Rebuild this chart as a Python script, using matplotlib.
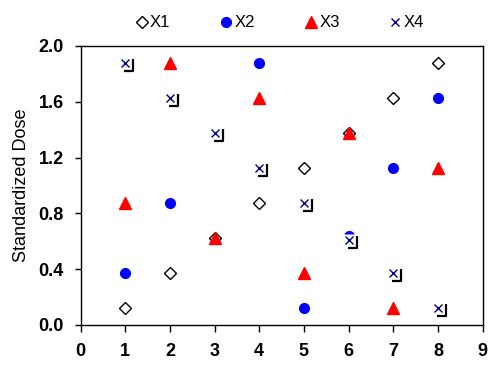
import matplotlib
matplotlib.use("Agg")
import matplotlib.pyplot as plt
from matplotlib.path import Path

plt.rcParams['font.family'] = ['Liberation Sans', 'DejaVu Sans']

# Data
runs = [1, 2, 3, 4, 5, 6, 7, 8]
x1 = [0.125, 0.375, 0.625, 0.875, 1.125, 1.375, 1.625, 1.875]
x2 = [0.375, 0.875, 1.375, 1.875, 0.125, 0.64, 1.125, 1.625]
x3 = [0.875, 1.875, 0.625, 1.625, 0.375, 1.375, 0.125, 1.125]
x4 = [1.875, 1.625, 1.375, 1.125, 0.875, 0.61, 0.375, 0.125]
xticks = list(range(0, 10))
yticks = [0.0, 0.4, 0.8, 1.2, 1.6, 2.0]

# L-shaped corner mark drawn beside each X4 point
corner = Path([(-1, -8), (8, -8), (8, 4)], [Path.MOVETO, Path.LINETO, Path.LINETO])

fig = plt.figure(figsize=(4.88, 3.65), dpi=100)
ax = fig.add_axes([0.165, 0.1096, 0.824, 0.7644])

ax.plot(runs, x1, ls='none', marker='D', ms=6.5, mfc='white', mec='black', mew=1.0, label='X1', zorder=3)
ax.plot(runs, x2, ls='none', marker='o', ms=7, mfc='blue', mec='blue', label='X2', zorder=3)
ax.plot(runs, x3, ls='none', marker='^', ms=8, mfc='red', mec='red', label='X3', zorder=4)
ax.plot(runs, x4, ls='none', marker='s', ms=8.5, mfc='white', mec='none', zorder=5)
ax.plot(runs, x4, ls='none', marker='x', ms=6, mec='#000080', mew=1.0, label='X4', zorder=6)
ax.plot(runs, x4, ls='none', marker=corner, ms=11.5, mfc='none', mec='black', mew=1.6, zorder=6)

ax.set_xlim(0, 9)
ax.set_ylim(0, 2.0)
ax.set_xticks(xticks)
ax.set_yticks(yticks)
ax.set_yticklabels([f"{v:.1f}" for v in yticks])
ax.tick_params(axis='x', direction='out', length=5, width=1, labelsize=13, pad=8)
ax.tick_params(axis='y', direction='out', length=4, width=1, labelsize=13, pad=8)
for lab in ax.get_xticklabels() + ax.get_yticklabels():
    lab.set_fontweight('bold')
ax.set_ylabel("Standardized Dose", fontsize=13, labelpad=6)
for sp in ax.spines.values():
    sp.set_linewidth(1.0)

fig.legend(loc='center', bbox_to_anchor=(0.573, 0.937), ncol=4, frameon=False,
           fontsize=12, handlelength=0.8, handletextpad=0.1, columnspacing=2.95)

fig.savefig("out.png", dpi=100)
